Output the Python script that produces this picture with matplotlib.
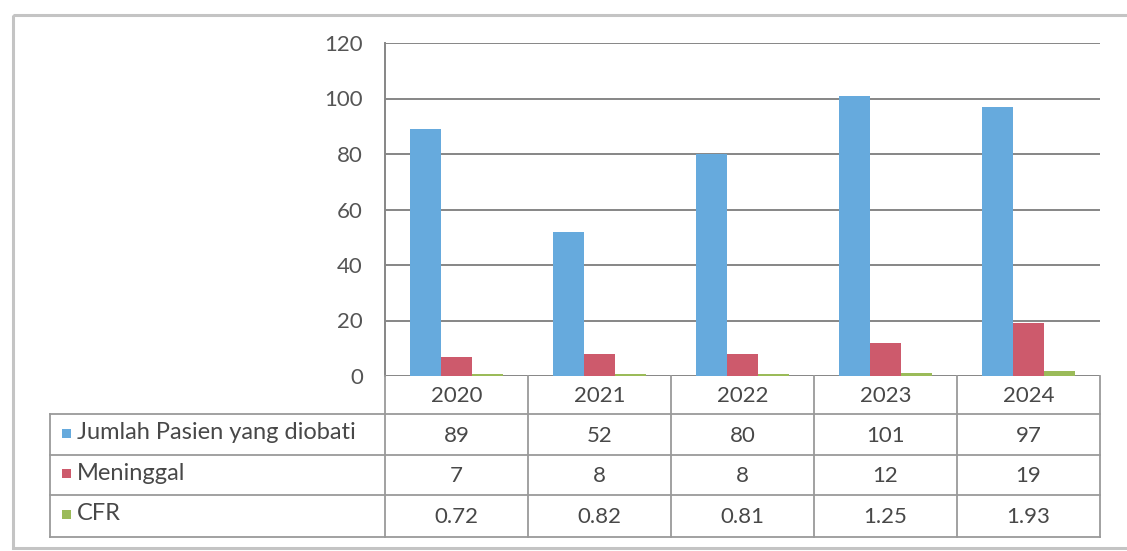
import matplotlib
matplotlib.use("Agg")
import matplotlib.pyplot as plt
from matplotlib.patches import Rectangle
import numpy as np

# Data
years = ["2020", "2021", "2022", "2023", "2024"]
series_names = ["Jumlah Pasien yang diobati", "Meninggal", "CFR"]
jumlah_pasien = [89, 52, 80, 101, 97]
meninggal = [7, 8, 8, 12, 19]
cfr = [0.72, 0.82, 0.81, 1.25, 1.93]
cfr_labels = ["0.72", "0.82", "0.81", "1.25", "1.93"]
y_ticks = [0, 20, 40, 60, 80, 100, 120]

colors = ["#66aadd", "#cd5a6c", "#9bbb59"]
text_color = "#484848"
grid_color = "#868686"
table_line = "#9a9a9a"

plt.rcParams["font.family"] = ["Lato", "DejaVu Sans"]

W, H = 1127, 551
fig = plt.figure(figsize=(W / 100, H / 100), dpi=100)
fig.patch.set_facecolor("white")

# Main plot area (pixel layout converted to figure fractions)
ax_l, ax_r, ax_t, ax_b = 385, 1100, 43, 376
ax = fig.add_axes([ax_l / W, 1 - ax_b / H, (ax_r - ax_l) / W, (ax_b - ax_t) / H])

x = np.arange(len(years))
bw = 0.215
all_series = [jumlah_pasien, meninggal, cfr]
for i, (vals, c) in enumerate(zip(all_series, colors)):
    ax.bar(x + (i - 1) * bw, vals, width=bw, color=c, zorder=3)

ax.set_xlim(-0.5, len(years) - 0.5)
ax.set_ylim(0, 120)
ax.set_yticks(y_ticks)
ax.set_yticklabels([str(t) for t in y_ticks], fontsize=16, color="#555555")
ax.tick_params(axis="y", length=0, pad=16)
ax.set_xticks([])
ax.yaxis.grid(True, color=grid_color, linewidth=1.4, zorder=0)
for s in ["top", "right", "bottom"]:
    ax.spines[s].set_visible(False)
ax.spines["left"].set_color(grid_color)
ax.spines["left"].set_linewidth(1.4)

# Overlay in pixel coordinates for the data table and outer frame
ov = fig.add_axes([0, 0, 1, 1], zorder=5)
ov.set_xlim(0, W)
ov.set_ylim(H, 0)
ov.axis("off")
ov.patch.set_alpha(0)

# Outer chart frame
ov.add_patch(Rectangle((13, 15), W + 20, 533, fill=False, edgecolor="#c4c4c4", linewidth=2.2))

col_edges = np.linspace(ax_l, ax_r, len(years) + 1)
row_edges = [376, 414, 455, 495, 537]
label_left = 50

lw = 1.3
# Header row (years) and table grid
ov.plot([ax_l, ax_l], [row_edges[0], row_edges[-1]], color=table_line, lw=lw)
for xe in col_edges[1:]:
    ov.plot([xe, xe], [row_edges[0], row_edges[-1]], color=table_line, lw=lw)
ov.plot([label_left, ax_r], [row_edges[1], row_edges[1]], color=table_line, lw=lw)
for ye in row_edges[2:]:
    ov.plot([label_left, ax_r], [ye, ye], color=table_line, lw=lw)
ov.plot([label_left, label_left], [row_edges[1], row_edges[-1]], color=table_line, lw=lw)

centers = (col_edges[:-1] + col_edges[1:]) / 2
for cx, yr in zip(centers, years):
    ov.text(cx, (row_edges[0] + row_edges[1]) / 2 + 1, yr, ha="center", va="center",
            fontsize=16, color=text_color)

row_texts = [[str(v) for v in jumlah_pasien], [str(v) for v in meninggal], cfr_labels]
for r in range(3):
    cy = (row_edges[r + 1] + row_edges[r + 2]) / 2 + 1
    for cx, t in zip(centers, row_texts[r]):
        ov.text(cx, cy, t, ha="center", va="center", fontsize=16, color=text_color)
    ov.add_patch(Rectangle((62, cy - 7), 9, 9, color=colors[r], linewidth=0))
    ov.text(77, cy - 3, series_names[r], ha="left", va="center", fontsize=17, color=text_color)

fig.savefig("out.png", dpi=100, facecolor="white")
